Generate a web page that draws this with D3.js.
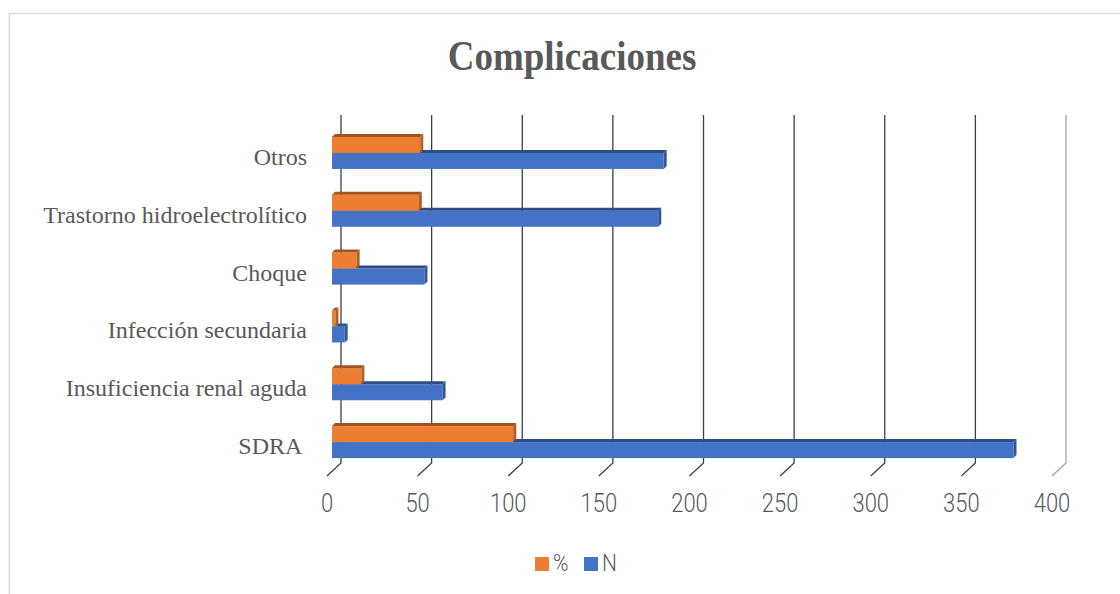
<!DOCTYPE html>
<html><head><meta charset="utf-8">
<script src="https://cdn.jsdelivr.net/npm/d3@7"></script>
<style>
html,body{margin:0;padding:0;background:#fff;}
svg{display:block;}
</style></head>
<body>
<svg id="chart" width="1120" height="594"></svg>
<script>
// ---- data ----
const title = "Complicaciones";
const categories = ["Otros", "Trastorno hidroelectrolítico", "Choque", "Infección secundaria", "Insuficiencia renal aguda", "SDRA "];
const seriesNames = ["%", "N"];
const pctValues = [48.7, 47.9, 13.6, 1.9, 16.2, 100];
const nValues = [183, 180, 51, 7, 61, 376];
const tickValues = [0, 50, 100, 150, 200, 250, 300, 350, 400];
const colors = {"%": "#ED7D31", "N": "#4472C4"};

const svg = d3.select("#chart");
const grey = "#595959";

// border
svg.append("rect").attr("x", 9.5).attr("y", 13.5).attr("width", 1130).attr("height", 600)
  .attr("fill", "#fff").attr("stroke", "#d9d9d9").attr("stroke-width", 1.5);

// title
svg.append("text").attr("transform", "translate(572,70) scale(1,1.15)").attr("text-anchor", "middle")
  .attr("font-family", "Liberation Serif").attr("font-weight", "bold").attr("font-size", 37)
  .attr("fill", grey).text(title);

// scales
const x = d3.scaleLinear().domain([0, 400]).range([332, 1057]);
const depthX = 9, slantX = 14, slantY = 13;
const gridTop = 115, gridBottom = 463;
const y0 = d3.scaleBand().domain(categories).range([124, 471]).paddingInner(0.446).paddingOuter(0.223);
const y1 = d3.scaleBand().domain(seriesNames).range([0, y0.bandwidth()]);

// gridlines (back wall + floor slant)
const ticks = x.ticks(8);
svg.append("g").selectAll("path").data(ticks).join("path")
  .attr("d", v => {
    const gx = x(v) + depthX;
    return `M${gx},${gridTop}L${gx},${gridBottom}L${gx - slantX},${gridBottom + slantY}`;
  })
  .attr("fill", "none")
  .attr("stroke", v => v === 400 ? "#a6a6a6" : "#404040")
  .attr("stroke-width", 1.3);

// tick labels
svg.append("g").selectAll("text").data(tickValues).join("text")
  .attr("transform", v => `translate(${x(v) + depthX - slantX},512) scale(1,1.15)`)
  .attr("text-anchor", "middle")
  .attr("font-family", "Roboto").attr("font-weight", 300).attr("font-size", 22)
  .attr("fill", grey).text(d => d);

// bars (3D boxes)
const d = 3;
const rows = [];
categories.forEach((c, i) => {
  rows.push({cat: c, s: "N", v: nValues[i]});
  rows.push({cat: c, s: "%", v: pctValues[i]});
});
const shade = (col, k) => d3.color(col).darker(k).formatHex();
const bars = svg.append("g").selectAll("g").data(rows).join("g");
bars.each(function(r) {
  const g = d3.select(this);
  const x0 = x(0), x1 = x(r.v);
  const yy = y0(r.cat) + y1(r.s), h = y1.bandwidth();
  const col = colors[r.s];
  g.append("rect").attr("x", x0).attr("y", yy).attr("width", x1 - x0).attr("height", h).attr("fill", col);
  g.append("path").attr("d", `M${x0},${yy}L${x0 + d},${yy - d}L${x1 + d},${yy - d}L${x1},${yy}Z`).attr("fill", shade(col, 1.1));
  g.append("path").attr("d", `M${x1},${yy}L${x1 + d},${yy - d}L${x1 + d},${yy + h - d}L${x1},${yy + h}Z`).attr("fill", shade(col, 0.8));
});

// category labels
svg.append("g").selectAll("text").data(categories).join("text")
  .attr("x", 307).attr("y", c => y0(c) + y0.bandwidth() / 2 + 12)
  .attr("text-anchor", "end").style("white-space", "pre")
  .attr("font-family", "Liberation Serif").attr("font-size", 24)
  .attr("fill", grey).text(c => c);

// legend
const legend = svg.append("g");
const legendItems = [{s: "%", x: 535}, {s: "N", x: 584}];
legendItems.forEach(it => {
  legend.append("rect").attr("x", it.x).attr("y", 557).attr("width", 14).attr("height", 14).attr("fill", colors[it.s]);
  legend.append("text").attr("transform", `translate(${it.x + 18},571) scale(1,1.15)`)
    .attr("font-family", "Roboto").attr("font-weight", 300).attr("font-size", 21)
    .attr("fill", grey).text(it.s);
});
</script>
</body></html>
